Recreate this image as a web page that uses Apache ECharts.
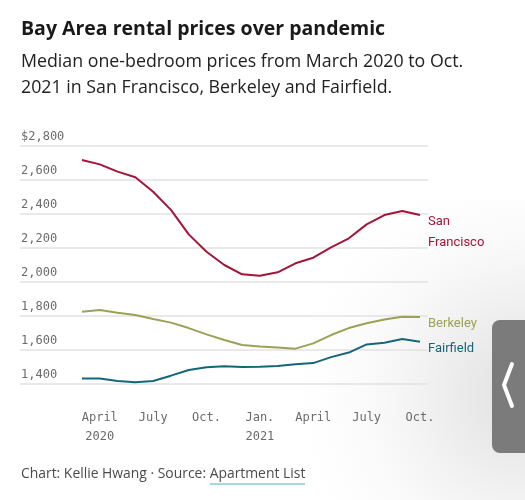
<!DOCTYPE html>
<html>
<head>
<meta charset="utf-8">
<script src="https://cdn.jsdelivr.net/npm/echarts@6/dist/echarts.min.js"></script>
<style>
  html, body { margin: 0; padding: 0; background: #fff; }
  #main { width: 525px; height: 500px; }
</style>
</head>
<body>
<div id="main"></div>
<script>
// months Mar 2020 .. Oct 2021
var months = ["Mar 2020", "Apr 2020", "May 2020", "Jun 2020", "Jul 2020", "Aug 2020", "Sep 2020", "Oct 2020", "Nov 2020", "Dec 2020",
  "Jan 2021", "Feb 2021", "Mar 2021", "Apr 2021", "May 2021", "Jun 2021", "Jul 2021", "Aug 2021", "Sep 2021", "Oct 2021"];
var sanFrancisco = [2718, 2692, 2649, 2616, 2531, 2424, 2280, 2178, 2100, 2045, 2037, 2057, 2110, 2143, 2204, 2257, 2339, 2394, 2418, 2394];
var berkeley = [1825, 1835, 1819, 1806, 1782, 1761, 1729, 1692, 1659, 1629, 1620, 1614, 1608, 1639, 1688, 1729, 1757, 1780, 1796, 1794];
var fairfield = [1433, 1433, 1418, 1410, 1418, 1449, 1482, 1498, 1504, 1500, 1502, 1506, 1516, 1523, 1558, 1585, 1633, 1643, 1665, 1649];
// x tick positions (index into months) and their labels
var tickIdx = [1, 4, 7, 10, 13, 16, 19];
var tickLabels = ["April\n2020", "July", "Oct.", "Jan.\n2021", "April", "July", "Oct."];
var yTicks = [1400, 1600, 1800, 2000, 2200, 2400, 2600, 2800];

function pairs(arr) {
  return arr.map(function (v, i) { return [i, v]; });
}

var sans = "Open Sans";
var labelFont = "Roboto";
var mono = "DejaVu Sans Mono";

var myChart = echarts.init(document.getElementById("main"));

var option = {
  animation: false,
  backgroundColor: "#fff",
  textStyle: { fontFamily: sans },
  graphic: [
    // soft shadow from the side tab
    {
      type: "rect", z: -10, silent: true,
      shape: { x: 250, y: 200, width: 275, height: 300 },
      style: {
        fill: {
          type: "radial", x: 1, y: 0.65, r: 0.9,
          colorStops: [{ offset: 0, color: "#e0e0e0" }, { offset: 0.45, color: "#f3f3f3" }, { offset: 1, color: "rgba(255,255,255,0)" }]
        }
      }
    },
    {
      type: "text", left: 21, top: 19,
      style: { text: "Bay Area rental prices over pandemic", font: "bold 19.5px " + sans, fill: "#1a1a1a" }
    },
    {
      type: "text", left: 21, top: 49,
      style: { text: "Median one-bedroom prices from March 2020 to Oct.\n2021 in San Francisco, Berkeley and Fairfield.", font: "17.8px " + sans, lineHeight: 26, fill: "#222" }
    },
    {
      type: "text", left: 21, top: 467,
      style: { text: "Chart: Kellie Hwang · Source: Apartment List", font: "13.9px " + sans, fill: "#4a4a4a" }
    },
    {
      type: "line", silent: true,
      shape: { x1: 210, y1: 484, x2: 305, y2: 484 },
      style: { stroke: "#46b4b4", lineWidth: 1 }
    },
    // side tab
    {
      type: "rect", silent: true, z: 100,
      shape: { x: 492, y: 320, width: 45, height: 133, r: 8 },
      style: { fill: "#7b7b7b" }
    },
    {
      type: "polyline", silent: true, z: 101,
      shape: { points: [[512, 364], [504, 385], [512, 406]] },
      style: { stroke: "#fff", lineWidth: 4, lineCap: "round", lineJoin: "round", fill: null }
    }
  ],
  grid: {
    left: 20,
    right: 97,
    top: 146,
    bottom: 116
  },
  xAxis: {
    type: "value",
    min: -3.485,
    max: 19.45,
    axisLine: { show: false },
    axisTick: { show: false },
    splitLine: { show: false },
    axisLabel: {
      customValues: tickIdx,
      formatter: function (v) {
        var k = tickIdx.indexOf(Math.round(v));
        return k >= 0 ? tickLabels[k] : "";
      },
      fontFamily: mono,
      fontSize: 12,
      lineHeight: 19,
      color: "#6b6b6b",
      margin: 24
    }
  },
  yAxis: {
    type: "value",
    min: yTicks[0],
    max: yTicks[yTicks.length - 1],
    interval: 200,
    axisLine: { show: false },
    axisTick: { show: false },
    splitLine: { lineStyle: { color: "#e2e2e2", width: 1.5 } },
    axisLabel: {
      inside: true,
      align: "left",
      verticalAlign: "bottom",
      margin: 1,
      padding: [0, 0, 3, 0],
      fontFamily: mono,
      fontSize: 12,
      color: "#6b6b6b",
      formatter: function (v) {
        var s = v.toLocaleString("en-US");
        return v === yTicks[yTicks.length - 1] ? "$" + s : s;
      }
    }
  },
  series: [
    {
      name: "San\nFrancisco",
      type: "line",
      data: pairs(sanFrancisco),
      showSymbol: false,
      lineStyle: { color: "#a3153a", width: 2 },
      itemStyle: { color: "#a3153a" },
      endLabel: {
        show: true, formatter: "{a}", distance: 8, offset: [0, 17],
        fontFamily: labelFont, fontSize: 13, lineHeight: 21, color: "#a3153a"
      }
    },
    {
      name: "Berkeley",
      type: "line",
      data: pairs(berkeley),
      showSymbol: false,
      lineStyle: { color: "#9aa255", width: 2 },
      itemStyle: { color: "#9aa255" },
      endLabel: {
        show: true, formatter: "{a}", distance: 8, offset: [0, 7],
        fontFamily: labelFont, fontSize: 13, color: "#9aa255"
      }
    },
    {
      name: "Fairfield",
      type: "line",
      data: pairs(fairfield),
      showSymbol: false,
      lineStyle: { color: "#15667a", width: 2 },
      itemStyle: { color: "#15667a" },
      endLabel: {
        show: true, formatter: "{a}", distance: 8, offset: [0, 7],
        fontFamily: labelFont, fontSize: 13, color: "#15667a"
      }
    }
  ]
};

myChart.setOption(option);
</script>
</body>
</html>
